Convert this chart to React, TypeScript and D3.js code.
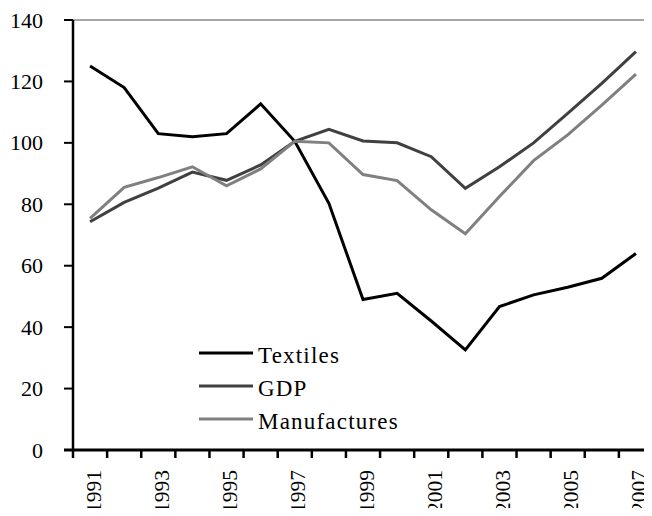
import React from 'react';
import * as d3 from 'd3';

// data
const years = ['1991', '1992', '1993', '1994', '1995', '1996', '1997', '1998', '1999', '2000', '2001', '2002', '2003', '2004', '2005', '2006', '2007'];
const textiles = [125, 118, 103, 102, 103, 112.7, 100.5, 80.3, 49, 51, 42, 32.6, 46.7, 50.5, 53, 55.9, 64];
const gdp = [74.3, 80.6, 85.3, 90.5, 87.8, 92.8, 100.5, 104.4, 100.6, 100, 95.5, 85.2, 92.2, 100, 109.6, 119.4, 129.7];
const manufactures = [75.4, 85.5, 88.7, 92.2, 86, 91.5, 100.5, 100, 89.7, 87.7, 78.2, 70.4, 82.5, 94.2, 102.6, 112.3, 122.4];
const yTicks = [0, 20, 40, 60, 80, 100, 120, 140];
const yearLabels = ['1991', '1993', '1995', '1997', '1999', '2001', '2003', '2005', '2007'];

const series = [
  { name: 'Textiles', values: textiles, color: '#000000' },
  { name: 'GDP', values: gdp, color: '#404040' },
  { name: 'Manufactures', values: manufactures, color: '#808080' },
];

const W = 652;
const H = 516;
const font = '"Liberation Serif", "Times New Roman", serif';

export default function App() {
  const left = 73;
  const right = 653;
  const top = 20;
  const bottom = 450;

  const x = d3.scaleBand<string>().domain(years).range([left, right]);
  const y = d3.scaleLinear().domain([0, 140]).range([bottom, top]);
  const cx = (yr: string) => (x(yr) as number) + x.bandwidth() / 2;

  const line = d3.line<number>()
    .x((_, i) => cx(years[i]))
    .y(d => y(d));

  // tick positions at category boundaries
  const boundaries = years.map(yr => x(yr) as number).concat([right]);

  return (
    <div style={{ margin: -8 }}>
      <svg width={W} height={H} style={{ display: 'block', background: '#fff' }}>
        {/* top border */}
        <line x1={left} x2={W} y1={y(140)} y2={y(140)} stroke="#888" strokeWidth={1.5} />

        {/* y axis */}
        <line x1={left} x2={left} y1={top} y2={bottom} stroke="#000" strokeWidth={2.5} />
        {yTicks.map(t => (
          <g key={t}>
            <line x1={64} x2={left} y1={y(t)} y2={y(t)} stroke="#000" strokeWidth={2} />
            <text x={43} y={y(t) + 7.5} textAnchor="end" fontFamily={font} fontSize={22} fill="#000">{t}</text>
          </g>
        ))}

        {/* x axis */}
        <line x1={64} x2={W} y1={bottom} y2={bottom} stroke="#000" strokeWidth={3} />
        {boundaries.map((b, i) => (
          <line key={i} x1={b} x2={b} y1={bottom} y2={bottom + 8} stroke="#000" strokeWidth={2.5} />
        ))}
        {yearLabels.map(yr => (
          <text key={yr} transform={`translate(${cx(yr) + 10.5},470) rotate(-90)`} textAnchor="end"
            fontFamily={font} fontSize={21.5} fill="#000">{yr}</text>
        ))}

        {/* lines */}
        {series.map(s => (
          <path key={s.name} d={line(s.values) || ''} fill="none" stroke={s.color} strokeWidth={3} strokeLinejoin="miter" />
        ))}

        {/* legend */}
        {series.map((s, i) => {
          const ly = 353 + i * 33;
          return (
            <g key={s.name}>
              <line x1={199} x2={253} y1={ly} y2={ly} stroke={s.color} strokeWidth={3} />
              <text x={258} y={ly + 10} fontFamily={font} fontSize={23} letterSpacing={1.2} fill="#000">{s.name}</text>
            </g>
          );
        })}
      </svg>
    </div>
  );
}
